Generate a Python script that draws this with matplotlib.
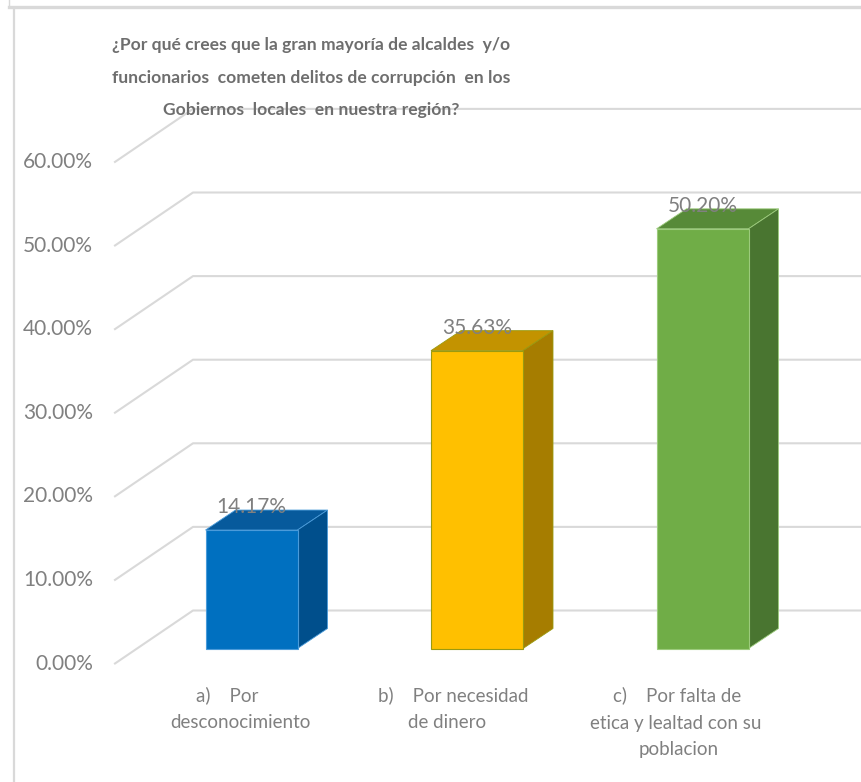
import matplotlib
matplotlib.use("Agg")
import matplotlib.pyplot as plt
from matplotlib.patches import Polygon
from matplotlib.lines import Line2D
from matplotlib import font_manager
import numpy as np

# ---------------- data ----------------
categories = ["a)    Por desconocimiento",
              "b)    Por necesidad de dinero",
              "c)    Por falta de etica y lealtad con su poblacion"]
values = [14.17, 35.63, 50.20]
value_labels = ["14.17%", "35.63%", "50.20%"]
yticks = [0, 10, 20, 30, 40, 50, 60]
ytick_labels = ["0.00%", "10.00%", "20.00%", "30.00%", "40.00%", "50.00%", "60.00%"]
title_lines = ["¿Por qué crees que la gran mayoría de alcaldes  y/o",
               "funcionarios  cometen delitos de corrupción  en los",
               "Gobiernos  locales  en nuestra región?"]

front_colors = ["#0070C0", "#FFC000", "#70AD47"]
top_colors = ["#075A9C", "#C39300", "#578A38"]
side_colors = ["#004F8C", "#A67D00", "#497530"]
edge_colors = ["#4A9BDA", "#9A9A10", "#9CCB7C"]

names = {f.name for f in font_manager.fontManager.ttflist}
TITLE_FONT = "Liberation Sans Narrow" if "Liberation Sans Narrow" in names else "Lato"
print("title font:", TITLE_FONT)

# ---------------- figure ----------------
W, H, DPI = 862, 782, 100
fig = plt.figure(figsize=(W / DPI, H / DPI), dpi=DPI)
fig.patch.set_facecolor("white")
ax = fig.add_axes([0, 0, 1, 1])
ax.axis("off")

# data <-> pixel mapping (bar front plane)
x0_pix, dx_pix = 251.5, 225.5     # category centers
y0_pix, dy_pix = 648.5, 8.36      # pixel (from top) of 0 %, px per %
ax.set_xlim((0 - x0_pix) / dx_pix, (W - x0_pix) / dx_pix)
ax.set_ylim(-(H - y0_pix) / dy_pix, y0_pix / dy_pix)
fig.canvas.draw()
T = ax.transData

FONT = "Lato"
GRAY = "#808080"

# ---------------- walls / gridlines ----------------
x_wall = (137 - x0_pix) / dx_pix
front_off = np.array([-22, -15])
back_off = np.array([56, 38])
for k, v in enumerate(yticks):
    p_front = T.transform((x_wall, v)) + front_off
    p_back = T.transform((x_wall, v)) + back_off
    p_end = T.transform((ax.get_xlim()[1] + 0.5, v)) + back_off
    pts = np.array([p_front, p_back, p_end])
    ax.add_line(Line2D(pts[:, 0], pts[:, 1], transform=None,
                       color="#D9D9D9", lw=1.5, zorder=1))
    ax.text(p_front[0] - 22, p_front[1], ytick_labels[k], transform=None,
            ha="right", va="center", fontsize=15, color=GRAY, family=FONT)

# ---------------- 3D bars ----------------
bw = 92 / dx_pix
depth = np.array([30, 20])
for i, v in enumerate(values):
    ax.bar(i, v, width=bw, color=front_colors[i], edgecolor=edge_colors[i],
           linewidth=0.8, zorder=5)
    ftl = T.transform((i - bw / 2, v))
    ftr = T.transform((i + bw / 2, v))
    fbr = T.transform((i + bw / 2, 0))
    top = Polygon([ftl, ftr, ftr + depth, ftl + depth], closed=True,
                  transform=None, facecolor=top_colors[i],
                  edgecolor=edge_colors[i], lw=0.6, zorder=4)
    side = Polygon([ftr, fbr, fbr + depth, ftr + depth], closed=True,
                   transform=None, facecolor=side_colors[i],
                   edgecolor=edge_colors[i], lw=0.6, zorder=4)
    ax.add_patch(top)
    ax.add_patch(side)
    ax.annotate(value_labels[i], xy=(i, v), xytext=(0, 23),
                textcoords="offset pixels", ha="center", va="center",
                fontsize=15, color=GRAY, family=FONT, zorder=10)

# ---------------- category labels ----------------
# each label split into lines: (text, x offset from bar centre, alignment)
cat_lines = [
    [("a)    Por", -24, "center"), ("desconocimiento", -11, "center")],
    [("b)    Por necesidad", -24, "center"), ("de dinero", -69, "left")],
    [("c)    Por falta de", -25, "center"), ("etica y lealtad con su", -27, "center"),
     ("poblacion", -24, "center")],
]
line_y = [695, 723, 750]
for i, lines in enumerate(cat_lines):
    cx = T.transform((i, 0))[0]
    for j, (txt, off, ha) in enumerate(lines):
        ax.text(cx + off, H - line_y[j], txt, transform=None, ha=ha,
                va="center", fontsize=13.5, color=GRAY, family=FONT)

# ---------------- title ----------------
title_y = [45, 78, 110]
for j, line in enumerate(title_lines):
    fig.text(311 / W, 1 - title_y[j] / H, line, ha="center", va="center",
             fontsize=15 if TITLE_FONT != "Lato" else 12.6, fontweight="bold",
             color="#6E6E6E", family=TITLE_FONT, zorder=20)

# ---------------- frame ----------------
fig.add_artist(Line2D([9 / W, 1], [1 - 6.5 / H, 1 - 6.5 / H],
                      transform=fig.transFigure, color="#D9D9D9", lw=2.4))
fig.add_artist(Line2D([14 / W, 14 / W], [0, 1 - 8 / H],
                      transform=fig.transFigure, color="#D9D9D9", lw=1.6))
fig.add_artist(Line2D([9 / W, 9 / W], [1 - 5 / H, 1],
                      transform=fig.transFigure, color="#D9D9D9", lw=1.0))

fig.savefig("out.png", dpi=DPI, facecolor="white")
